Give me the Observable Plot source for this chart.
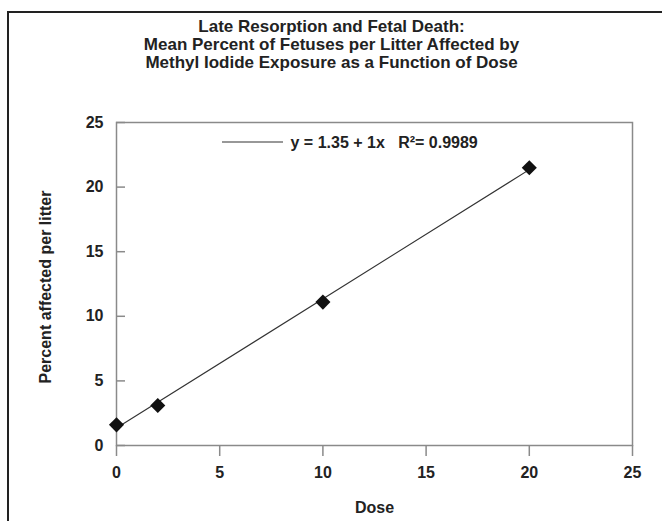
<!DOCTYPE html>
<html>
<head>
<meta charset="utf-8">
<script src="https://cdn.jsdelivr.net/npm/d3@7"></script>
<script src="https://cdn.jsdelivr.net/npm/@observablehq/plot@0.6"></script>
<style>
  html, body { margin: 0; padding: 0; background: #fff; overflow: hidden; }
  #wrap { position: relative; width: 662px; height: 521px; }
  #border { position: absolute; left: 7px; top: 11px; width: 700px; height: 600px;
            border-top: 2px solid #222; border-left: 2px solid #222; pointer-events: none; }
</style>
</head>
<body>
<div id="wrap"><div id="border"></div></div>
<script>
// Data
const dose = [0, 2, 10, 20];
const percent = [1.6, 3.1, 11.1, 21.5];
const trendX = [0, 20];
const trendY = [1.35, 21.35];
const ticks = [0, 5, 10, 15, 20, 25];
const titleLines = [
  "Late Resorption and Fetal Death:",
  "Mean Percent of Fetuses per Litter Affected by",
  "Methyl Iodide Exposure as a Function of Dose"
];
const legendText = "y = 1.35 + 1x   R²= 0.9989";
const xLabel = "Dose";
const yLabel = "Percent affected per litter";

const points = dose.map((d, i) => ({x: d, y: percent[i]}));
const trend = trendX.map((d, i) => ({x: d, y: trendY[i]}));

const font = "'Liberation Sans', Arial, sans-serif";
const ink = "#222";
const gray = "#8a8a8a";

const chart = Plot.plot({
  width: 662,
  height: 521,
  marginLeft: 116,
  marginRight: 30,
  marginTop: 122,
  marginBottom: 76,
  style: {fontFamily: font, fontSize: "15px", background: "transparent", overflow: "visible"},
  x: {domain: [0, 25], ticks: ticks},
  y: {domain: [0, 25], ticks: ticks},
  marks: [
    Plot.frame({stroke: gray, strokeWidth: 1.5}),
    Plot.axisX({ticks, tickSize: 11, stroke: gray, strokeWidth: 1.5, tickFormat: () => "", label: null}),
    Plot.axisY({ticks, tickSize: -9, stroke: gray, strokeWidth: 1.5, tickFormat: () => "", label: null}),
    Plot.text(ticks, {x: d => d, frameAnchor: "bottom", dy: 27, lineAnchor: "middle",
      fontSize: 16, fontWeight: "bold", fill: ink}),
    Plot.text(ticks, {y: d => d, frameAnchor: "left", dx: -13, textAnchor: "end", lineAnchor: "middle",
      fontSize: 16, fontWeight: "bold", fill: ink}),
    Plot.line(trend, {x: "x", y: "y", stroke: "#333", strokeWidth: 1.1}),
    Plot.dot(points, {x: "x", y: "y", symbol: "diamond2", r: 6.8, fill: "#111", stroke: "none"}),
    ...titleLines.map((t, i) => Plot.text([t], {frameAnchor: "top", dx: -43, dy: -96 + i * 18,
      lineAnchor: "middle", fontSize: 17, fontWeight: "bold", fill: ink})),
    Plot.text([legendText], {frameAnchor: "top-left", dx: 174, dy: 20, textAnchor: "start",
      lineAnchor: "middle", fontSize: 16, fontWeight: "bold", fill: ink}),
    Plot.text([xLabel], {frameAnchor: "bottom", dy: 62, lineAnchor: "middle",
      fontSize: 16, fontWeight: "bold", fill: ink}),
    Plot.text([yLabel], {frameAnchor: "left", dx: -71, dy: 3, rotate: -90, textAnchor: "middle",
      lineAnchor: "middle", fontSize: 16, fontWeight: "bold", fill: ink})
  ]
});

// legend line sample
d3.select(chart).append("line")
  .attr("x1", 222).attr("x2", 283).attr("y1", 142).attr("y2", 142)
  .attr("stroke", "#333").attr("stroke-width", 1.1);

chart.style.position = "absolute";
chart.style.left = "0px";
chart.style.top = "0px";
document.getElementById("wrap").appendChild(chart);
</script>
</body>
</html>
